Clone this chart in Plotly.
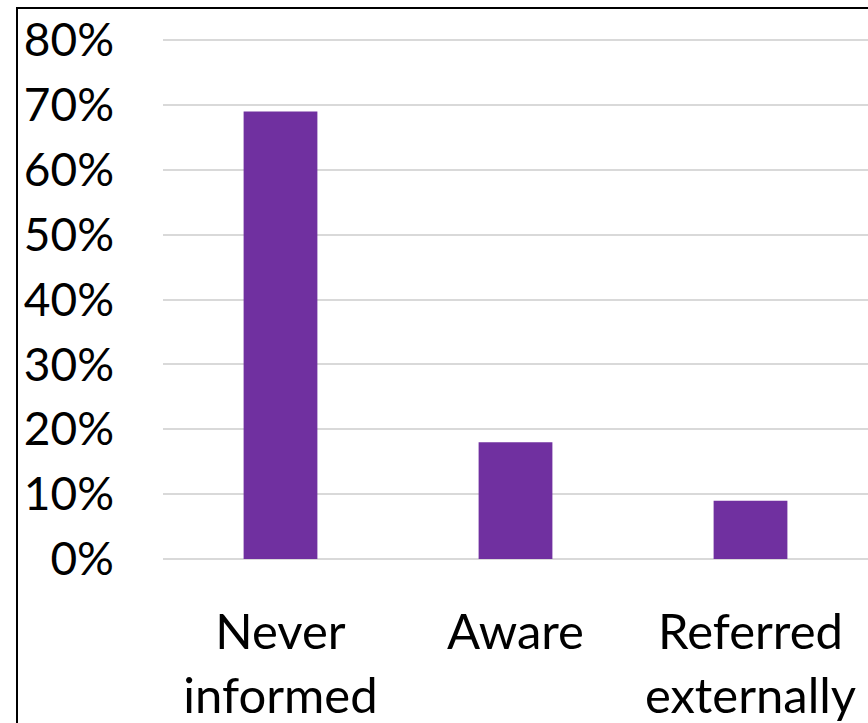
import plotly.graph_objects as go

categories = ["Never<br>informed", "Aware", "Referred<br>externally"]
values = [0.69, 0.18, 0.09]
y_ticks = [0, 0.1, 0.2, 0.3, 0.4, 0.5, 0.6, 0.7, 0.8]
y_tick_labels = ["0%", "10%", "20%", "30%", "40%", "50%", "60%", "70%", "80%"]

FONT = "Lato, Carlito, Calibri, sans-serif"

fig = go.Figure(
    go.Bar(x=categories, y=values, marker=dict(color="#7030A0", line=dict(width=0)))
)

fig.update_layout(
    width=868,
    height=723,
    margin=dict(l=163, r=0, t=39, b=164),
    paper_bgcolor="white",
    plot_bgcolor="white",
    bargap=0.686,
    showlegend=False,
    font=dict(family=FONT, size=46, color="black"),
)

fig.update_yaxes(
    range=[0, 0.802],
    tickvals=y_ticks,
    ticktext=y_tick_labels,
    showgrid=True,
    gridcolor="#D9D9D9",
    gridwidth=1.5,
    zeroline=True,
    zerolinecolor="#D9D9D9",
    zerolinewidth=1.5,
    showline=False,
    ticks="",
    ticklabelstandoff=48,
    tickfont=dict(family=FONT, size=46, color="black"),
)

fig.update_xaxes(
    showgrid=False,
    showline=False,
    ticks="",
    ticklabelstandoff=40,
    tickfont=dict(family=FONT, size=49, color="black"),
)

# outer chart border (extends past the visible window on the right and bottom)
fig.add_shape(
    type="rect",
    xref="paper", yref="paper",
    x0=(17 - 163) / 705, x1=1.2,
    y0=-0.6, y1=(559 - 8) / 520,
    line=dict(color="black", width=2),
    fillcolor="rgba(0,0,0,0)",
    layer="above",
)

fig.write_html("out.html")
